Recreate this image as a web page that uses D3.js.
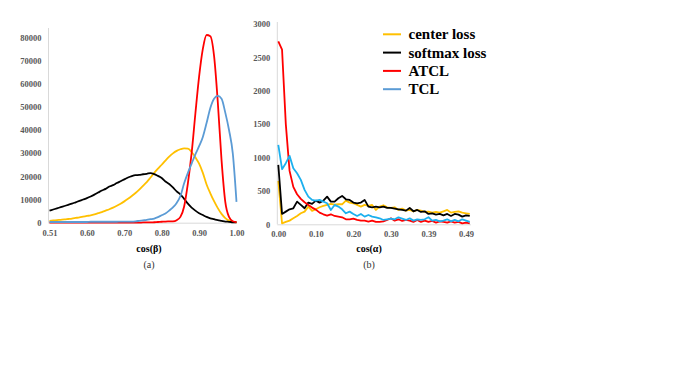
<!DOCTYPE html>
<html>
<head>
<meta charset="utf-8">
<script src="https://cdn.jsdelivr.net/npm/d3@7"></script>
<style>
  body { margin: 0; background: #fff; }
  text { font-family: 'Liberation Serif', 'Times New Roman', serif; }
</style>
</head>
<body>
<div class="canvas"></div>
<script>
// ---- data (a): distribution of cos(beta), 51 bins ----
const betaTickIdx = [0, 10, 20, 30, 40, 50];
const betaTickLabels = ['0.51', '0.60', '0.70', '0.80', '0.90', '1.00'];
const betaYTicks = [0, 10000, 20000, 30000, 40000, 50000, 60000, 70000, 80000];

const betaCenter = [800, 950, 1100, 1250, 1400, 1600, 1800, 2050, 2300, 2600,
  2900, 3200, 3600, 4100, 4600, 5200, 5800, 6500, 7300, 8200,
  9200, 10300, 11500, 12800, 14300, 15900, 17500, 19500, 21500, 23300,
  25000, 26800, 28500, 29900, 31000, 31700, 32100, 32000, 30500, 28200,
  25500, 21500, 16500, 12700, 9300, 6300, 3800, 2000, 900, 400, 200];
const betaSoftmax = [5200, 5700, 6200, 6700, 7200, 7700, 8200, 8800, 9400, 10000,
  10600, 11300, 12100, 13000, 13900, 14600, 15600, 16200, 17100, 17900,
  18700, 19500, 20100, 20500, 20600, 20900, 21100, 21400, 21000, 20200,
  19300, 17800, 16700, 15200, 13500, 12200, 10300, 8200, 6500, 5200,
  4100, 3300, 2500, 1900, 1500, 1100, 800, 500, 400, 200, 100];
const betaATCL = [0, 0, 0, 0, 0, 0, 0, 0, 0, 0,
  0, 0, 0, 0, 0, 0, 0, 0, 0, 0,
  50, 50, 50, 50, 50, 100, 100, 100, 200, 300,
  400, 500, 550, 600, 1100, 2500, 7000, 17000, 30000, 47000,
  63000, 75000, 81000, 80500, 72000, 52000, 27000, 9000, 2500, 600, 200];
const betaTCL = [300, 300, 300, 300, 300, 300, 300, 300, 300, 300,
  300, 400, 400, 400, 400, 400, 400, 400, 400, 500,
  500, 500, 500, 600, 800, 1000, 1200, 1500, 1800, 2400,
  3200, 4000, 5200, 6600, 8500, 11500, 17000, 21500, 25500, 29500,
  33000, 37000, 43000, 49500, 53500, 54700, 53500, 47500, 40000, 30000, 9000];

// ---- data (b): distribution of cos(alpha), 52 bins ----
const alphaTickIdx = [0, 10, 20, 30, 40, 50];
const alphaTickLabels = ['0.00', '0.10', '0.20', '0.30', '0.39', '0.49'];
const alphaYTicks = [0, 500, 1000, 1500, 2000, 2500, 3000];

const alphaCenter = [650, 15, 35, 55, 90, 125, 165, 190, 265, 200,
  225, 255, 275, 290, 305, 295, 300, 300, 355, 325,
  315, 290, 265, 290, 275, 290, 215, 265, 285, 255,
  245, 255, 215, 235, 205, 215, 195, 215, 205, 185,
  190, 175, 185, 175, 195, 215, 175, 185, 195, 175, 165, 155];
const alphaSoftmax = [890, 155, 190, 225, 240, 340, 290, 240, 325, 305,
  355, 325, 355, 415, 340, 340, 390, 425, 375, 365,
  325, 315, 325, 365, 265, 255, 265, 255, 265, 245,
  245, 235, 225, 215, 205, 245, 195, 215, 185, 195,
  155, 165, 145, 155, 135, 155, 125, 155, 145, 115, 135, 125];
const alphaATCL = [2740, 2615, 1500, 800, 560, 450, 380, 330, 290, 250,
  220, 175, 150, 130, 150, 125, 115, 105, 75, 75,
  85, 65, 55, 55, 40, 55, 35, 35, 45, 65,
  90, 55, 75, 50, 65, 55, 35, 65, 35, 55,
  35, 50, 25, 45, 35, 25, 45, 25, 35, 15, 25, 15];
const alphaTCL = [1190, 825, 915, 1025, 840, 765, 665, 515, 415, 365,
  355, 365, 340, 315, 215, 290, 265, 225, 165, 190,
  155, 125, 155, 115, 140, 115, 105, 90, 65, 75,
  85, 75, 105, 85, 65, 90, 55, 75, 65, 75,
  105, 55, 65, 45, 55, 75, 45, 65, 45, 75, 55, 35];

const legendNames = ['center loss', 'softmax loss', 'ATCL', 'TCL'];
const legendColors = ['#ffc000', '#000000', '#ff0000', '#5b9bd5'];

const svg = d3
  .select('.canvas')
  .append('svg')
  .attr('width', 675)
  .attr('height', 377);

const axisGrey = '#d9d9d9';
const labelGrey = '#595959';

// draws one panel: scales, axes, lines, titles
const drawPanel = (opts) => {
  const g = svg.append('g');

  const x = d3.scaleLinear().domain([0, 50]).range(opts.xRange);
  const y = d3.scaleLinear().domain(opts.yDomain).range(opts.yRange);

  // axis lines
  g.append('line')
    .attr('x1', x(0) - 1)
    .attr('x2', x(0) - 1)
    .attr('y1', y(0))
    .attr('y2', opts.axisTop)
    .attr('stroke', axisGrey);
  g.append('line')
    .attr('x1', x(0) - 1)
    .attr('x2', x(opts.xEnd))
    .attr('y1', y(0) + 0.5)
    .attr('y2', y(0) + 0.5)
    .attr('stroke', axisGrey);

  const xAxis = d3
    .axisBottom(x)
    .tickValues(opts.tickIdx)
    .tickSize(0)
    .tickPadding(7)
    .tickFormat((d, i) => opts.tickLabels[i]);
  const yAxis = d3
    .axisLeft(y)
    .tickValues(opts.yTicks)
    .tickSize(0)
    .tickPadding(8)
    .tickFormat((d) => d);

  const xAxisGroup = g
    .append('g')
    .attr('transform', `translate(0, ${y(0)})`)
    .call(xAxis);
  const yAxisGroup = g
    .append('g')
    .attr('transform', `translate(${x(0)}, 0)`)
    .call(yAxis);

  [xAxisGroup, yAxisGroup].forEach((ag) => {
    ag.select('.domain').remove();
    ag.selectAll('text')
      .attr('fill', labelGrey)
      .style('font-family', "'Liberation Serif', serif")
      .style('font-weight', 'bold')
      .style('font-size', '8.5px');
  });

  // lines
  const line = d3
    .line()
    .x((d, i) => x(i))
    .y((d) => y(d))
    .curve(opts.curve);

  opts.series.forEach((s, k) => {
    g.append('path')
      .datum(s)
      .attr('fill', 'none')
      .attr('stroke', opts.colors[k])
      .attr('stroke-width', 1.8)
      .attr('stroke-linejoin', 'round')
      .attr('d', line);
  });

  // titles
  g.append('text')
    .attr('x', opts.titleX)
    .attr('y', 251.5)
    .attr('text-anchor', 'middle')
    .style('font-weight', 'bold')
    .style('font-size', '10px')
    .text(opts.title);
  g.append('text')
    .attr('x', opts.titleX)
    .attr('y', 268)
    .attr('text-anchor', 'middle')
    .style('font-size', '10px')
    .attr('fill', '#333')
    .text(opts.caption);
};

drawPanel({
  xRange: [49.5, 236.5],
  yDomain: [0, 80000],
  yRange: [222.7, 37.3],
  axisTop: 28,
  xEnd: 50,
  tickIdx: betaTickIdx,
  tickLabels: betaTickLabels,
  yTicks: betaYTicks,
  series: [betaCenter, betaSoftmax, betaATCL, betaTCL],
  colors: ['#ffc000', '#000000', '#ff0000', '#5b9bd5'],
  curve: d3.curveMonotoneX,
  title: 'cos(β)',
  caption: '(a)',
  titleX: 149,
});

drawPanel({
  xRange: [278.3, 466],
  yDomain: [0, 3000],
  yRange: [224.3, 24],
  axisTop: 22,
  xEnd: 51.3,
  tickIdx: alphaTickIdx,
  tickLabels: alphaTickLabels,
  yTicks: alphaYTicks,
  series: [alphaCenter, alphaSoftmax, alphaATCL, alphaTCL],
  colors: ['#ffc000', '#000000', '#ff0000', '#1cb0ee'],
  curve: d3.curveLinear,
  title: 'cos(α)',
  caption: '(b)',
  titleX: 369,
});

// legend
const legend = svg.append('g').attr('transform', 'translate(383, 34.3)');

legendNames.forEach((name, i) => {
  const row = legend.append('g').attr('transform', `translate(0, ${i * 18.3})`);
  row.append('line')
    .attr('x1', 0)
    .attr('x2', 18)
    .attr('stroke', legendColors[i])
    .attr('stroke-width', 2);
  row.append('text')
    .attr('x', 25.5)
    .attr('y', 5)
    .style('font-weight', 'bold')
    .style('font-size', '15px')
    .text(name);
});
</script>
</body>
</html>
